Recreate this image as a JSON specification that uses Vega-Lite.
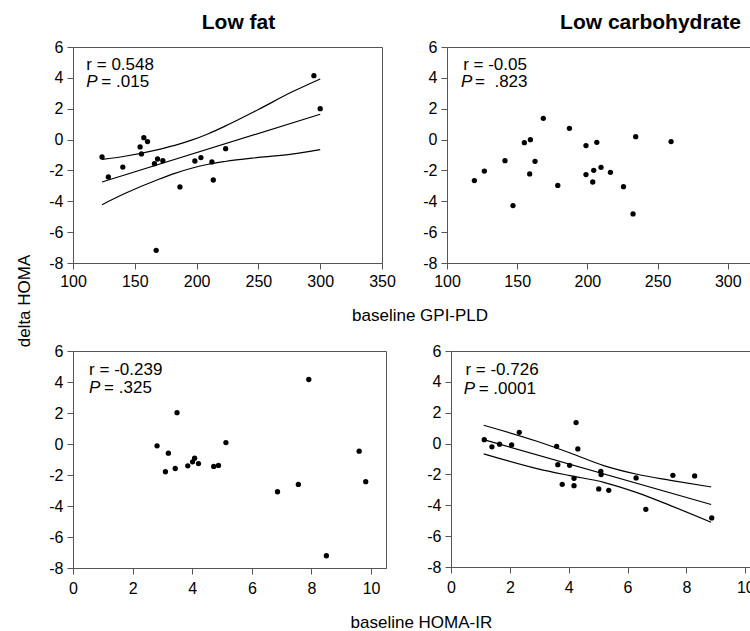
{
  "$schema": "https://vega.github.io/schema/vega-lite/v6.json",
  "padding": {"left": 16, "top": 11, "right": 0, "bottom": 0},
  "config": {
    "font": "Liberation Sans",
    "view": {"stroke": "#555", "strokeWidth": 1},
    "axis": {"grid": false, "domainColor": "#555", "tickColor": "#555", "tickSize": 6, "labelPadding": 4, "labelFontSize": 16, "labelColor": "#000", "labelFont": "Liberation Sans", "labelFlush": false, "labelOverlap": false, "labelBound": false},
    "title": {"color": "#000", "fontWeight": "normal", "font": "Liberation Sans"},
    "text": {"font": "Liberation Sans", "fontSize": 17, "color": "#000"}
  },
  "datasets": {
    "tl": [
      {"x": 123.5, "y": -1.13}, {"x": 128.6, "y": -2.42}, {"x": 140.3, "y": -1.78}, {"x": 154.3, "y": -0.48},
      {"x": 155.4, "y": -0.93}, {"x": 157.3, "y": 0.12}, {"x": 160.3, "y": -0.13}, {"x": 165.9, "y": -1.56},
      {"x": 168.4, "y": -1.26}, {"x": 172.7, "y": -1.37}, {"x": 167.3, "y": -7.18}, {"x": 186.5, "y": -3.07},
      {"x": 198.6, "y": -1.39}, {"x": 203.5, "y": -1.17}, {"x": 212.4, "y": -1.45}, {"x": 213.5, "y": -2.62},
      {"x": 223.5, "y": -0.59}, {"x": 294.9, "y": 4.14}, {"x": 300, "y": 2.0}
    ],
    "tl_fit": [
      {"curve": "fit", "x": 123.5, "y": -2.75}, {"curve": "fit", "x": 300, "y": 1.64},
      {"curve": "upper", "x": 123.5, "y": -1.28}, {"curve": "upper", "x": 141.9, "y": -1.08}, {"curve": "upper", "x": 168.9, "y": -0.65},
      {"curve": "upper", "x": 182.4, "y": -0.38}, {"curve": "upper", "x": 195.9, "y": -0.04}, {"curve": "upper", "x": 209.5, "y": 0.38},
      {"curve": "upper", "x": 223.0, "y": 0.87}, {"curve": "upper", "x": 250.0, "y": 1.95}, {"curve": "upper", "x": 277.0, "y": 3.08},
      {"curve": "upper", "x": 300.0, "y": 3.93},
      {"curve": "lower", "x": 123.5, "y": -4.22}, {"curve": "lower", "x": 141.9, "y": -3.50}, {"curve": "lower", "x": 168.9, "y": -2.59},
      {"curve": "lower", "x": 182.4, "y": -2.19}, {"curve": "lower", "x": 195.9, "y": -1.86}, {"curve": "lower", "x": 209.5, "y": -1.60},
      {"curve": "lower", "x": 223.0, "y": -1.42}, {"curve": "lower", "x": 250.0, "y": -1.16}, {"curve": "lower", "x": 277.0, "y": -0.94},
      {"curve": "lower", "x": 300.0, "y": -0.65}
    ],
    "tr": [
      {"x": 119.5, "y": -2.66}, {"x": 126.6, "y": -2.04}, {"x": 141.3, "y": -1.37}, {"x": 147.0, "y": -4.28},
      {"x": 155.1, "y": -0.2}, {"x": 159.4, "y": -0.01}, {"x": 158.9, "y": -2.23}, {"x": 162.7, "y": -1.41},
      {"x": 168.6, "y": 1.38}, {"x": 178.9, "y": -2.97}, {"x": 187.2, "y": 0.73}, {"x": 199.0, "y": -0.39},
      {"x": 199.0, "y": -2.27}, {"x": 206.7, "y": -0.18}, {"x": 204.5, "y": -1.99}, {"x": 203.8, "y": -2.75},
      {"x": 209.7, "y": -1.8}, {"x": 216.4, "y": -2.12}, {"x": 225.7, "y": -3.05}, {"x": 232.5, "y": -4.82},
      {"x": 234.4, "y": 0.19}, {"x": 259.6, "y": -0.13}
    ],
    "bl": [
      {"x": 2.82, "y": -0.12}, {"x": 3.2, "y": -0.59}, {"x": 3.49, "y": 2.02}, {"x": 3.1, "y": -1.79},
      {"x": 3.43, "y": -1.58}, {"x": 3.85, "y": -1.41}, {"x": 4.01, "y": -1.15}, {"x": 4.08, "y": -0.92},
      {"x": 4.21, "y": -1.26}, {"x": 4.72, "y": -1.45}, {"x": 4.88, "y": -1.38}, {"x": 5.13, "y": 0.09},
      {"x": 6.86, "y": -3.08}, {"x": 7.56, "y": -2.61}, {"x": 7.91, "y": 4.16}, {"x": 8.5, "y": -7.21},
      {"x": 9.6, "y": -0.46}, {"x": 9.82, "y": -2.43}
    ],
    "br": [
      {"x": 1.13, "y": 0.25}, {"x": 1.39, "y": -0.21}, {"x": 1.65, "y": -0.04}, {"x": 2.06, "y": -0.08},
      {"x": 2.32, "y": 0.73}, {"x": 3.59, "y": -0.18}, {"x": 3.63, "y": -1.37}, {"x": 3.78, "y": -2.64},
      {"x": 4.03, "y": -1.41}, {"x": 4.18, "y": -2.25}, {"x": 4.18, "y": -2.73}, {"x": 4.25, "y": 1.36},
      {"x": 4.31, "y": -0.35}, {"x": 5.02, "y": -2.94}, {"x": 5.09, "y": -1.8}, {"x": 5.1, "y": -2.01},
      {"x": 5.36, "y": -3.03}, {"x": 6.29, "y": -2.23}, {"x": 6.62, "y": -4.26}, {"x": 7.54, "y": -2.06},
      {"x": 8.28, "y": -2.1}, {"x": 8.86, "y": -4.82}
    ],
    "br_fit": [
      {"curve": "fit", "x": 1.11, "y": 0.26}, {"curve": "fit", "x": 8.84, "y": -3.95},
      {"curve": "upper", "x": 1.11, "y": 1.19}, {"curve": "upper", "x": 2.92, "y": 0.15}, {"curve": "upper", "x": 4.05, "y": -0.61},
      {"curve": "upper", "x": 5.19, "y": -1.43}, {"curve": "upper", "x": 6.32, "y": -1.99}, {"curve": "upper", "x": 7.46, "y": -2.38},
      {"curve": "upper", "x": 8.84, "y": -2.81},
      {"curve": "lower", "x": 1.11, "y": -0.67}, {"curve": "lower", "x": 2.92, "y": -1.62}, {"curve": "lower", "x": 4.05, "y": -2.08},
      {"curve": "lower", "x": 5.19, "y": -2.51}, {"curve": "lower", "x": 6.32, "y": -3.18}, {"curve": "lower", "x": 7.46, "y": -4.02},
      {"curve": "lower", "x": 8.84, "y": -5.10}
    ]
  },
  "title": {"text": "delta HOMA", "orient": "left", "anchor": "middle", "fontSize": 17, "offset": 14, "dx": 20},
  "spacing": 18,
  "vconcat": [
    {
      "title": {"text": "baseline GPI-PLD", "orient": "bottom", "anchor": "middle", "fontSize": 17, "offset": 18, "dx": -10},
      "spacing": 65,
      "bounds": "flush",
      "hconcat": [
        {
          "width": 309, "height": 216,
          "title": {"text": "Low fat", "anchor": "middle", "font": "Liberation Sans", "fontSize": 21, "fontWeight": "bold", "dx": 11, "offset": 6},
          "encoding": {
            "x": {"type": "quantitative", "scale": {"domain": [100, 350], "nice": false, "zero": false}, "axis": {"title": null, "values": [100, 150, 200, 250, 300, 350]}},
            "y": {"type": "quantitative", "scale": {"domain": [-8, 6], "nice": false}, "axis": {"title": null, "values": [-8, -6, -4, -2, 0, 2, 4, 6], "labelExpr": "'' + datum.value"}}
          },
          "layer": [
            {"mark": {"type": "rule", "color": "#000", "strokeWidth": 1.2}, "encoding": {"y": {"datum": 0}}},
            {"data": {"name": "tl_fit"}, "mark": {"type": "line", "color": "#000", "strokeWidth": 1.2, "interpolate": "monotone"},
             "encoding": {"x": {"field": "x"}, "y": {"field": "y"}, "detail": {"field": "curve"}}},
            {"data": {"name": "tl"}, "mark": {"type": "circle", "color": "#000", "opacity": 1, "size": 28},
             "encoding": {"x": {"field": "x"}, "y": {"field": "y"}}},
            {"data": {"values": [{"label": "r = 0.548"}]}, "mark": {"type": "text", "align": "left", "baseline": "alphabetic"},
             "encoding": {"x": {"datum": 110.8}, "y": {"datum": 4.54}, "text": {"field": "label"}}},
            {"data": {"values": [{"label": "P"}]}, "mark": {"type": "text", "align": "left", "baseline": "alphabetic", "fontStyle": "italic"},
             "encoding": {"x": {"datum": 110.8}, "y": {"datum": 3.38}, "text": {"field": "label"}}},
            {"data": {"values": [{"label": "= .015"}]}, "mark": {"type": "text", "align": "left", "baseline": "alphabetic", "dx": 15},
             "encoding": {"x": {"datum": 110.8}, "y": {"datum": 3.38}, "text": {"field": "label"}}}
          ]
        },
        {
          "width": 351, "height": 216,
          "title": {"text": "Low carbohydrate", "anchor": "middle", "font": "Liberation Sans", "fontSize": 21, "fontWeight": "bold", "dx": 28, "offset": 6},
          "encoding": {
            "x": {"type": "quantitative", "scale": {"domain": [100, 350], "nice": false, "zero": false}, "axis": {"title": null, "values": [100, 150, 200, 250, 300, 350]}},
            "y": {"type": "quantitative", "scale": {"domain": [-8, 6], "nice": false}, "axis": {"title": null, "values": [-8, -6, -4, -2, 0, 2, 4, 6], "labelExpr": "'' + datum.value"}}
          },
          "layer": [
            {"mark": {"type": "rule", "color": "#000", "strokeWidth": 1.2}, "encoding": {"y": {"datum": 0}}},
            {"data": {"name": "tr"}, "mark": {"type": "circle", "color": "#000", "opacity": 1, "size": 28},
             "encoding": {"x": {"field": "x"}, "y": {"field": "y"}}},
            {"data": {"values": [{"label": "r = -0.05"}]}, "mark": {"type": "text", "align": "left", "baseline": "alphabetic"},
             "encoding": {"x": {"datum": 111.5}, "y": {"datum": 4.54}, "text": {"field": "label"}}},
            {"data": {"values": [{"label": "P"}]}, "mark": {"type": "text", "align": "left", "baseline": "alphabetic", "fontStyle": "italic"},
             "encoding": {"x": {"datum": 110}, "y": {"datum": 3.38}, "text": {"field": "label"}}},
            {"data": {"values": [{"label": "=\u00a0 .823"}]}, "mark": {"type": "text", "align": "left", "baseline": "alphabetic", "dx": 14},
             "encoding": {"x": {"datum": 110}, "y": {"datum": 3.38}, "text": {"field": "label"}}}
          ]
        }
      ]
    },
    {
      "title": {"text": "baseline HOMA-IR", "orient": "bottom", "anchor": "middle", "fontSize": 17, "offset": 18, "dx": 17},
      "spacing": 65,
      "bounds": "flush",
      "hconcat": [
        {
          "width": 313, "height": 217,
          "encoding": {
            "x": {"type": "quantitative", "scale": {"domain": [0, 10.5], "nice": false}, "axis": {"title": null, "values": [0, 2, 4, 6, 8, 10], "labelPadding": 6}},
            "y": {"type": "quantitative", "scale": {"domain": [-8, 6], "nice": false}, "axis": {"title": null, "values": [-8, -6, -4, -2, 0, 2, 4, 6], "labelExpr": "'' + datum.value"}}
          },
          "layer": [
            {"mark": {"type": "rule", "color": "#555", "strokeWidth": 1.2}, "encoding": {"y": {"datum": 0}}},
            {"data": {"name": "bl"}, "mark": {"type": "circle", "color": "#000", "opacity": 1, "size": 28},
             "encoding": {"x": {"field": "x"}, "y": {"field": "y"}}},
            {"data": {"values": [{"label": "r = -0.239"}]}, "mark": {"type": "text", "align": "left", "baseline": "alphabetic"},
             "encoding": {"x": {"datum": 0.54}, "y": {"datum": 4.48}, "text": {"field": "label"}}},
            {"data": {"values": [{"label": "P"}]}, "mark": {"type": "text", "align": "left", "baseline": "alphabetic", "fontStyle": "italic"},
             "encoding": {"x": {"datum": 0.54}, "y": {"datum": 3.3}, "text": {"field": "label"}}},
            {"data": {"values": [{"label": "= .325"}]}, "mark": {"type": "text", "align": "left", "baseline": "alphabetic", "dx": 15},
             "encoding": {"x": {"datum": 0.54}, "y": {"datum": 3.3}, "text": {"field": "label"}}}
          ]
        },
        {
          "width": 309, "height": 216,
          "encoding": {
            "x": {"type": "quantitative", "scale": {"domain": [0, 10.5], "nice": false}, "axis": {"title": null, "values": [0, 2, 4, 6, 8, 10], "labelPadding": 6}},
            "y": {"type": "quantitative", "scale": {"domain": [-8, 6], "nice": false}, "axis": {"title": null, "values": [-8, -6, -4, -2, 0, 2, 4, 6], "labelExpr": "'' + datum.value"}}
          },
          "layer": [
            {"mark": {"type": "rule", "color": "#555", "strokeWidth": 1.2}, "encoding": {"y": {"datum": 0}}},
            {"data": {"name": "br_fit"}, "mark": {"type": "line", "color": "#000", "strokeWidth": 1.2, "interpolate": "monotone"},
             "encoding": {"x": {"field": "x"}, "y": {"field": "y"}, "detail": {"field": "curve"}}},
            {"data": {"name": "br"}, "mark": {"type": "circle", "color": "#000", "opacity": 1, "size": 28},
             "encoding": {"x": {"field": "x"}, "y": {"field": "y"}}},
            {"data": {"values": [{"label": "r = -0.726"}]}, "mark": {"type": "text", "align": "left", "baseline": "alphabetic"},
             "encoding": {"x": {"datum": 0.49}, "y": {"datum": 4.47}, "text": {"field": "label"}}},
            {"data": {"values": [{"label": "P"}]}, "mark": {"type": "text", "align": "left", "baseline": "alphabetic", "fontStyle": "italic"},
             "encoding": {"x": {"datum": 0.43}, "y": {"datum": 3.24}, "text": {"field": "label"}}},
            {"data": {"values": [{"label": "= .0001"}]}, "mark": {"type": "text", "align": "left", "baseline": "alphabetic", "dx": 15},
             "encoding": {"x": {"datum": 0.43}, "y": {"datum": 3.24}, "text": {"field": "label"}}}
          ]
        }
      ]
    }
  ]
}
